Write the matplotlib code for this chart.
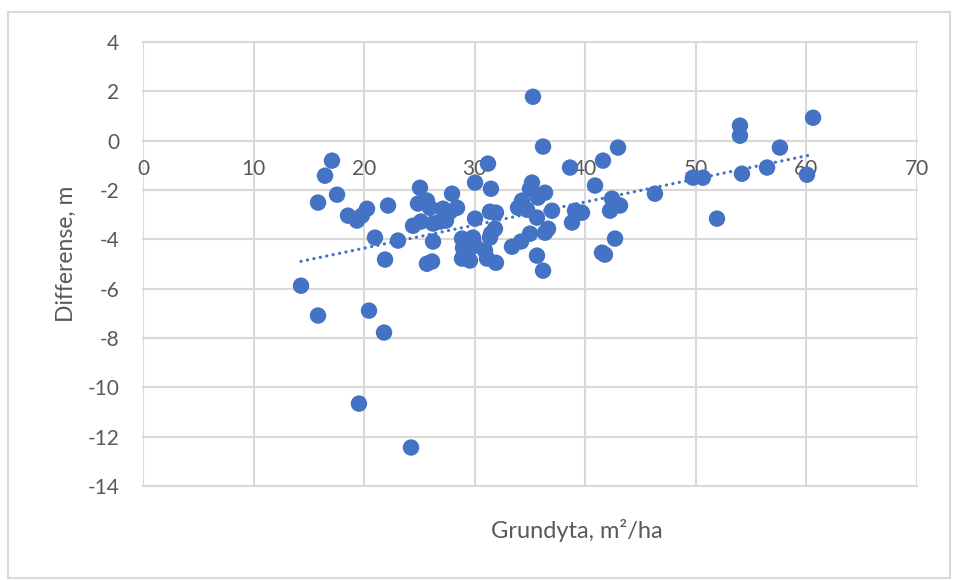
import numpy as np
import matplotlib
matplotlib.use("Agg")
import matplotlib.pyplot as plt
from matplotlib.patches import Rectangle

# Data
grundyta = [14.29, 15.83, 15.83, 16.46, 17.09, 17.55, 18.54, 19.35, 19.79, 20.26,
            19.53, 20.44, 20.98, 21.80, 21.89, 22.16, 23.06, 24.24, 24.42, 25.14,
            25.05, 24.87, 25.68, 25.96, 26.23, 26.86, 27.40, 27.13, 27.77, 28.40,
            27.95, 26.23, 25.68, 26.14, 28.85, 28.94, 29.39, 28.85, 29.57, 29.84,
            30.03, 30.93, 31.11, 31.38, 31.92, 30.03, 30.03, 31.20, 31.47, 31.38,
            31.92, 31.83, 31.47, 35.27, 36.18, 38.62, 35.18, 35.00, 36.36, 35.72,
            34.28, 33.92, 34.73, 35.63, 36.99, 36.63, 36.36, 35.00, 34.19, 33.37,
            35.63, 36.18, 39.07, 39.70, 38.80, 42.96, 41.60, 40.88, 42.42, 43.14,
            42.24, 42.69, 41.51, 41.78, 46.30, 49.74, 50.64, 51.91, 53.99, 53.99,
            54.17, 56.44, 57.60, 60.05, 60.60]
differense = [-5.88, -7.09, -2.51, -1.42, -0.81, -2.19, -3.04, -3.24, -3.04, -2.76,
              -10.66, -6.89, -3.93, -7.78, -4.82, -2.63, -4.05, -12.44, -3.45, -3.28,
              -1.91, -2.55, -2.43, -2.72, -3.36, -3.28, -3.24, -2.76, -2.88, -2.72,
              -2.15, -4.09, -4.99, -4.90, -3.97, -4.34, -4.46, -4.78, -4.86, -3.93,
              -4.26, -4.46, -4.78, -3.93, -4.95, -3.16, -1.70, -0.93, -1.95, -2.88,
              -2.92, -3.57, -3.77, 1.78, -0.24, -1.09, -1.70, -1.95, -2.11, -2.31,
              -2.43, -2.72, -2.80, -3.12, -2.84, -3.57, -3.73, -3.77, -4.09, -4.30,
              -4.66, -5.27, -2.84, -2.92, -3.32, -0.28, -0.81, -1.82, -2.35, -2.63,
              -2.84, -3.97, -4.54, -4.62, -2.15, -1.50, -1.50, -3.16, 0.61, 0.20,
              -1.34, -1.09, -0.28, -1.38, 0.93]
x_ticks = [0, 10, 20, 30, 40, 50, 60, 70]
y_ticks = [4, 2, 0, -2, -4, -6, -8, -10, -12, -14]
x_label = "Grundyta, m²/ha"
y_label = "Differense, m"

W, H = 958, 580
plt.rcParams['font.family'] = ['Lato', 'DejaVu Sans']
fig = plt.figure(figsize=(W / 100, H / 100), dpi=100)
fig.patch.set_facecolor('white')

L, R, T, B = 143, 917, 42, 486
ax = fig.add_axes([L / W, 1 - B / H, (R - L) / W, (B - T) / H])

blue = '#4472C4'
grid_c = '#d9d9d9'
text_c = '#595959'

ax.scatter(grundyta, differense, s=140, color=blue, edgecolors='none', zorder=3)

# Linear trend line computed from the data
xs = np.array(grundyta)
ys = np.array(differense)
k, m = np.polyfit(xs, ys, 1)
xl = np.array([xs.min(), xs.max()])
ax.plot(xl, k * xl + m, color=blue, lw=2.3, linestyle=(0, (0.05, 2.0)),
        dash_capstyle='round', solid_capstyle='round', zorder=2)

ax.set_xlim(0, 70)
ax.set_ylim(-14, 4)
ax.set_xticks(x_ticks)
ax.set_yticks(y_ticks)
ax.set_xticklabels([str(v) for v in x_ticks])
ax.set_yticklabels([str(v) for v in y_ticks])
ax.grid(True, color=grid_c, lw=1.5)
for gl in ax.get_xgridlines() + ax.get_ygridlines():
    gl.set_clip_on(False)
ax.set_axisbelow(True)

for s in ['top', 'right', 'left']:
    ax.spines[s].set_visible(False)
ax.spines['bottom'].set_position(('data', 0))
ax.spines['bottom'].set_color(grid_c)
ax.spines['bottom'].set_linewidth(1.5)

ax.tick_params(axis='both', length=0, labelsize=15, labelcolor=text_c)
ax.tick_params(axis='x', pad=13)
ax.tick_params(axis='y', pad=17)

fig.text(577 / W, 1 - 531 / H, x_label, ha='center', va='center',
         fontsize=17, color=text_c)
fig.text(66 / W, 1 - 254 / H, y_label, ha='center', va='center',
         rotation=90, fontsize=16.5, color=text_c)

# Chart area border
fig.patches.append(Rectangle((8 / W, 1 - 578 / H), (950 - 8) / W, (578 - 12) / H,
                             transform=fig.transFigure, fill=False,
                             edgecolor=grid_c, lw=1.5))

fig.savefig('out.png', dpi=100, facecolor='white')
